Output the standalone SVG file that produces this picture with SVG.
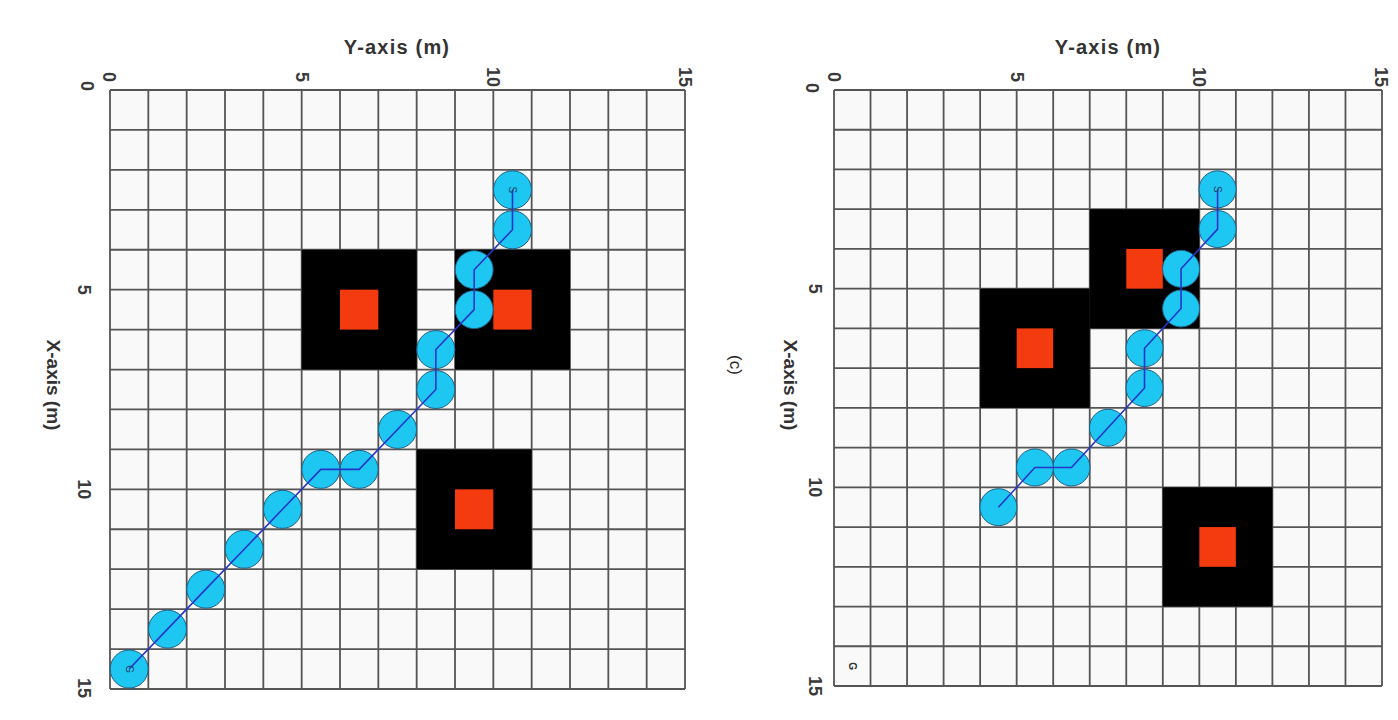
<svg xmlns="http://www.w3.org/2000/svg" width="1398" height="720" viewBox="0 0 1398 720">
<style>
.bg{fill:#f9f9f9}
.grid{stroke:#555;stroke-width:1.8;fill:none}
.obs{fill:#000}
.goal{fill:#f43b10}
.node{fill:#1ec6f2;stroke:#1d5f86;stroke-width:1}
.path{stroke:#2436c8;stroke-width:1.6;fill:none}
.tick{font-family:"Liberation Sans",Arial,sans-serif;font-size:18px;font-weight:bold;fill:#3a3a3a;text-anchor:middle}
.axis{font-family:"Liberation Sans",Arial,sans-serif;font-size:19px;font-weight:bold;fill:#333;text-anchor:middle}
.small{font-family:"Liberation Sans",Arial,sans-serif;font-size:10px;fill:#1d3f66;text-anchor:middle}
.cap{font-family:"Liberation Sans",Arial,sans-serif;font-size:17px;fill:#222;text-anchor:middle}
</style>
<rect width="1398" height="720" fill="#fff"/>

<!-- LEFT PLOT -->
<g id="left-plot">
<rect class="bg" x="110" y="90" width="575" height="599"/>
<path class="grid" d="M110 90V689M148.33 90V689M186.67 90V689M225 90V689M263.33 90V689M301.67 90V689M340 90V689M378.33 90V689M416.67 90V689M455 90V689M493.33 90V689M531.67 90V689M570 90V689M608.33 90V689M646.67 90V689M685 90V689M110 90H685M110 129.93H685M110 169.87H685M110 209.8H685M110 249.73H685M110 289.67H685M110 329.6H685M110 369.53H685M110 409.47H685M110 449.4H685M110 489.33H685M110 529.27H685M110 569.2H685M110 609.13H685M110 649.07H685M110 689H685"/>
</g>
<g id="left-obstacle-1"><rect class="obs" x="301.67" y="249.73" width="115" height="119.8"/><rect class="goal" x="340" y="289.67" width="38.33" height="39.93"/></g>
<g id="left-obstacle-2"><rect class="obs" x="455" y="249.73" width="115" height="119.8"/><rect class="goal" x="493.33" y="289.67" width="38.33" height="39.93"/></g>
<g id="left-obstacle-3"><rect class="obs" x="416.67" y="449.4" width="115" height="119.8"/><rect class="goal" x="455" y="489.33" width="38.33" height="39.93"/></g>
<g id="left-nodes">
<circle class="node" cx="512.5" cy="189.83" r="19"/>
<circle class="node" cx="512.5" cy="229.77" r="19"/>
<circle class="node" cx="474.17" cy="269.7" r="19"/>
<circle class="node" cx="474.17" cy="309.63" r="19"/>
<circle class="node" cx="435.83" cy="349.57" r="19"/>
<circle class="node" cx="435.83" cy="389.5" r="19"/>
<circle class="node" cx="397.5" cy="429.43" r="19"/>
<circle class="node" cx="359.17" cy="469.37" r="19"/>
<circle class="node" cx="320.83" cy="469.37" r="19"/>
<circle class="node" cx="282.5" cy="509.3" r="19"/>
<circle class="node" cx="244.17" cy="549.23" r="19"/>
<circle class="node" cx="205.83" cy="589.17" r="19"/>
<circle class="node" cx="167.5" cy="629.1" r="19"/>
<circle class="node" cx="129.17" cy="669.03" r="19"/>
</g>
<g id="left-connectors">
<polyline class="path" points="512.5,189.83 512.5,229.77 474.17,269.7 474.17,309.63 435.83,349.57 435.83,389.5 397.5,429.43 359.17,469.37 320.83,469.37 282.5,509.3 244.17,549.23 205.83,589.17 167.5,629.1 129.17,669.03"/>
</g>
<g id="left-labels">
<text class="small" transform="translate(512.5,189.83) rotate(90)" dy="3.5">S</text>
<text class="small" transform="translate(129.17,669.03) rotate(90)" dy="3.5">G</text>
<text class="tick" transform="translate(109,77) rotate(90)" dy="6">0</text>
<text class="tick" transform="translate(301.67,77) rotate(90)" dy="6">5</text>
<text class="tick" transform="translate(493.33,77) rotate(90)" dy="6">10</text>
<text class="tick" transform="translate(685,77) rotate(90)" dy="6">15</text>
<text class="tick" transform="translate(87,86) rotate(90)" dy="6">0</text>
<text class="tick" transform="translate(84,289.67) rotate(90)" dy="6">5</text>
<text class="tick" transform="translate(84,489.33) rotate(90)" dy="6">10</text>
<text class="tick" transform="translate(84,688) rotate(90)" dy="6">15</text>
<text class="axis" x="397" y="54" style="font-size:20px;letter-spacing:1.2px">Y-axis  (m)</text>
<text class="axis" transform="translate(53,385) rotate(90)" dy="6.5">X-axis (m)</text>
</g>

<text class="cap" transform="translate(735,365) rotate(90)" dy="5.5">(c)</text>

<!-- RIGHT PLOT -->
<g id="right-plot">
<rect class="bg" x="834" y="90" width="548" height="596"/>
<path class="grid" d="M834 90V686M870.53 90V686M907.07 90V686M943.6 90V686M980.13 90V686M1016.67 90V686M1053.2 90V686M1089.73 90V686M1126.27 90V686M1162.8 90V686M1199.33 90V686M1235.87 90V686M1272.4 90V686M1308.93 90V686M1345.47 90V686M1382 90V686M834 90H1382M834 129.73H1382M834 169.47H1382M834 209.2H1382M834 248.93H1382M834 288.67H1382M834 328.4H1382M834 368.13H1382M834 407.87H1382M834 447.6H1382M834 487.33H1382M834 527.07H1382M834 566.8H1382M834 606.53H1382M834 646.27H1382M834 686H1382"/>
</g>
<g id="right-obstacle-1"><rect class="obs" x="1089.73" y="209.2" width="109.6" height="119.2"/><rect class="goal" x="1126.27" y="248.93" width="36.53" height="39.73"/></g>
<g id="right-obstacle-2"><rect class="obs" x="980.13" y="288.67" width="109.6" height="119.2"/><rect class="goal" x="1016.67" y="328.4" width="36.53" height="39.73"/></g>
<g id="right-obstacle-3"><rect class="obs" x="1162.8" y="487.33" width="109.6" height="119.2"/><rect class="goal" x="1199.33" y="527.07" width="36.53" height="39.73"/></g>
<g id="right-nodes">
<circle class="node" cx="1217.6" cy="189.33" r="18.5"/>
<circle class="node" cx="1217.6" cy="229.07" r="18.5"/>
<circle class="node" cx="1181.07" cy="268.8" r="18.5"/>
<circle class="node" cx="1181.07" cy="308.53" r="18.5"/>
<circle class="node" cx="1144.53" cy="348.27" r="18.5"/>
<circle class="node" cx="1144.53" cy="388" r="18.5"/>
<circle class="node" cx="1108" cy="427.73" r="18.5"/>
<circle class="node" cx="1071.47" cy="467.47" r="18.5"/>
<circle class="node" cx="1034.93" cy="467.47" r="18.5"/>
<circle class="node" cx="998.4" cy="507.2" r="18.5"/>
</g>
<g id="right-connectors">
<polyline class="path" points="1217.6,189.33 1217.6,229.07 1181.07,268.8 1181.07,308.53 1144.53,348.27 1144.53,388 1108,427.73 1071.47,467.47 1034.93,467.47 998.4,507.2"/>
</g>
<g id="right-labels">
<text class="small" transform="translate(1217.6,189.33) rotate(90)" dy="3.5">S</text>
<text class="small" transform="translate(852.27,666.13) rotate(90)" dy="3.5" style="fill:#333;font-weight:bold">G</text>
<text class="tick" transform="translate(834,77) rotate(90)" dy="6">0</text>
<text class="tick" transform="translate(1016.67,77) rotate(90)" dy="6">5</text>
<text class="tick" transform="translate(1199.33,77) rotate(90)" dy="6">10</text>
<text class="tick" transform="translate(1381,77) rotate(90)" dy="6">15</text>
<text class="tick" transform="translate(812,88) rotate(90)" dy="6">0</text>
<text class="tick" transform="translate(815,288.67) rotate(90)" dy="6">5</text>
<text class="tick" transform="translate(815,487.33) rotate(90)" dy="6">10</text>
<text class="tick" transform="translate(815,686) rotate(90)" dy="6">15</text>
<text class="axis" x="1108" y="54" style="font-size:20px;letter-spacing:1.2px">Y-axis  (m)</text>
<text class="axis" transform="translate(790,385) rotate(90)" dy="6.5">X-axis (m)</text>
</g>
</svg>
